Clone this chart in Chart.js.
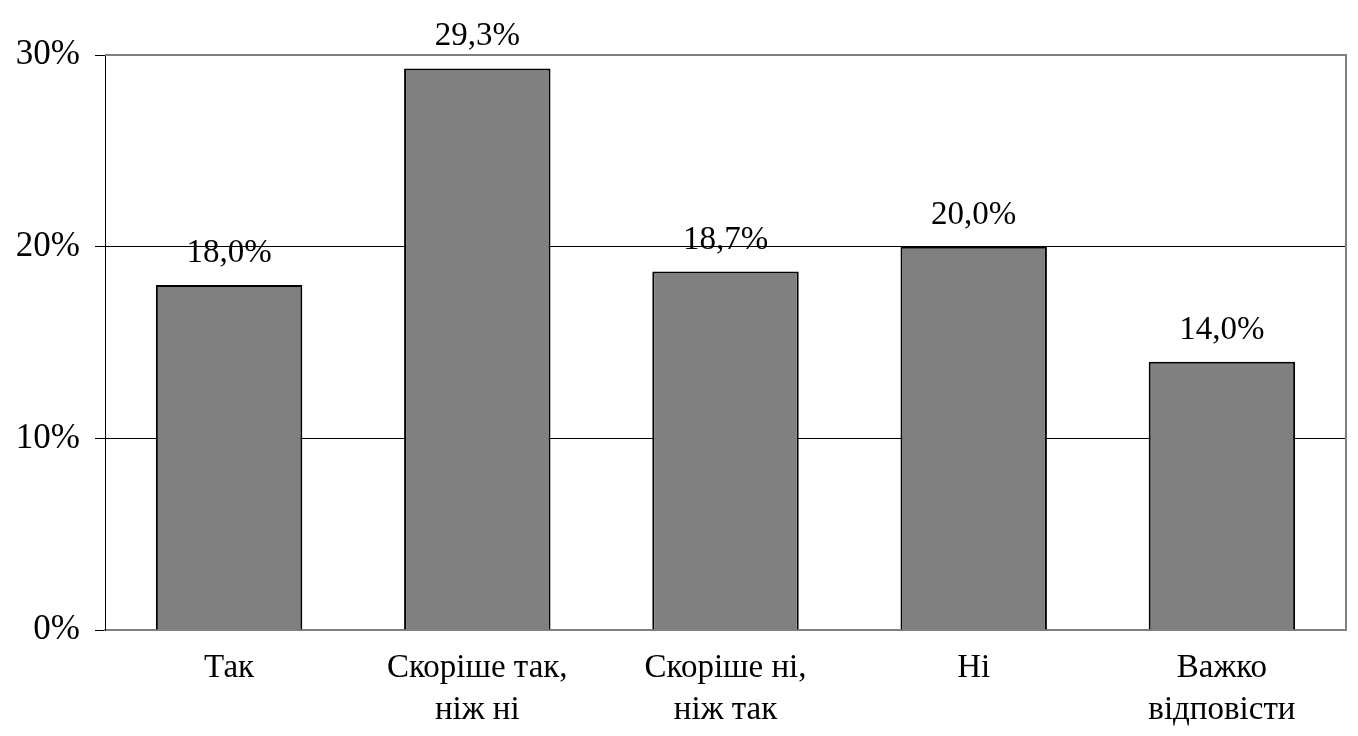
<!DOCTYPE html>
<html>
<head>
<meta charset="utf-8">
<style>
  html, body { margin: 0; padding: 0; background: #fff; }
  #wrap { width: 1358px; height: 736px; }
</style>
<script src="https://cdn.jsdelivr.net/npm/chart.js@4"></script>
</head>
<body>
<div id="wrap"><canvas id="barChart" width="1358" height="736"></canvas></div>
<script>
// data
const categories = [["Так"], ["Скоріше так,", "ніж ні"], ["Скоріше ні,", "ніж так"], ["Ні"], ["Важко", "відповісти"]];
const shares = [18.0, 29.3, 18.7, 20.0, 14.0];
const yTicks = [0, 10, 20, 30];

const serif = "'Liberation Serif', 'Times New Roman', serif";

// value labels above the bars + grey frame on the right
const barLabels = {
  id: "barLabels",
  afterDatasetsDraw(chart) {
    const ctx = chart.ctx;
    const meta = chart.getDatasetMeta(0);
    ctx.save();
    ctx.font = "33px " + serif;
    ctx.fillStyle = "#000";
    ctx.textAlign = "center";
    ctx.textBaseline = "alphabetic";
    meta.data.forEach((bar, i) => {
      ctx.fillText(shares[i].toFixed(1).replace(".", ",") + "%", bar.x, bar.y - 23);
    });
    const a = chart.chartArea;
    ctx.strokeStyle = "#808080";
    ctx.lineWidth = 2;
    ctx.beginPath();
    ctx.moveTo(a.left, a.top);
    ctx.lineTo(a.right, a.top);
    ctx.lineTo(a.right, a.bottom);
    ctx.stroke();
    ctx.restore();
  }
};

new Chart(document.getElementById("barChart"), {
  type: "bar",
  data: {
    labels: categories,
    datasets: [{
      data: shares,
      backgroundColor: "#808080",
      borderColor: "#000",
      borderWidth: 2,
      barPercentage: 0.59,
      categoryPercentage: 1
    }]
  },
  options: {
    responsive: false,
    animation: false,
    layout: { padding: { top: 55, right: 12, left: 0, bottom: 0 } },
    plugins: { legend: { display: false }, tooltip: { enabled: false } },
    scales: {
      x: {
        grid: { display: false, drawTicks: false },
        border: { color: "#808080", width: 2 },
        ticks: {
          color: "#000",
          padding: 18,
          maxRotation: 0,
          font: { family: serif, size: 33, lineHeight: 1.25 }
        },
        afterFit(scale) { scale.height = 106; }
      },
      y: {
        min: 0,
        max: 30,
        afterBuildTicks(scale) { scale.ticks = yTicks.map(v => ({ value: v })); },
        grid: {
          color: c => (c.tick && (c.tick.value === 10 || c.tick.value === 20)) ? "#000" : "rgba(0,0,0,0)",
          lineWidth: 1,
          tickColor: "#000",
          tickLength: 10
        },
        border: { color: "#000", width: 1 },
        ticks: {
          color: "#000",
          padding: 15,
          font: { family: serif, size: 35 },
          callback: v => v + "%"
        },
        afterFit(scale) { scale.width = 105; }
      }
    }
  },
  plugins: [barLabels]
});
</script>
</body>
</html>
